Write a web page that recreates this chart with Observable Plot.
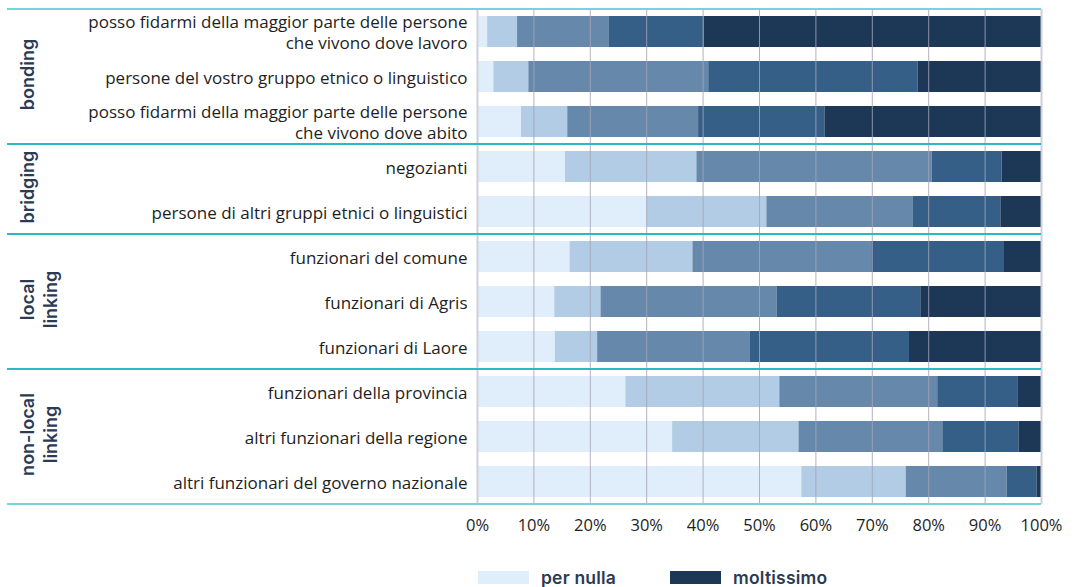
<!DOCTYPE html>
<html>
<head>
<meta charset="utf-8">
<script src="https://cdn.jsdelivr.net/npm/d3@7"></script>
<script src="https://cdn.jsdelivr.net/npm/@observablehq/plot@0.6"></script>
<style>
  body { margin: 0; background: #fff; }
  #chart svg { display: block; }
  #legend { display: flex; align-items: center; height: 20px; margin-top: 19px; padding-left: 478px;
            font-family: Inter, "DejaVu Sans", sans-serif; font-weight: 600; font-size: 17.5px; color: #2b3a55; letter-spacing: 0.2px; }
  .sw { display: inline-block; width: 51px; height: 13px; margin-right: 12px; }
  .item { display: flex; align-items: center; margin-right: 54px; }
</style>
</head>
<body>
<div id="chart"></div>
<div id="legend"></div>
<script>
const categories = [
  "posso fidarmi della maggior parte delle persone\nche vivono dove lavoro",
  "persone del vostro gruppo etnico o linguistico",
  "posso fidarmi della maggior parte delle persone\nche vivono dove abito",
  "negozianti",
  "persone di altri gruppi etnici o linguistici",
  "funzionari del comune",
  "funzionari di Agris",
  "funzionari di Laore",
  "funzionari della provincia",
  "altri funzionari della regione",
  "altri funzionari del governo nazionale"
];
const groupNames = ["bonding", "bridging", "local\nlinking", "non-local\nlinking"];
const groupOf = [0, 0, 0, 1, 1, 2, 2, 2, 3, 3, 3];

const levels = ["per nulla", "poco", "abbastanza", "molto", "moltissimo"];
const colors = ["#e0eefb", "#b1cce4", "#6689ab", "#355f86", "#1c3856"];
const legendLevels = ["per nulla", "moltissimo"];

const perNulla   = [1.8, 2.9, 7.8, 15.6, 30.1, 16.4, 13.7, 13.8, 26.3, 34.6, 57.5];
const poco       = [5.3, 6.2, 8.2, 23.3, 21.2, 21.8, 8.2, 7.5, 27.3, 22.4, 18.5];
const abbastanza = [16.2, 31.9, 23.2, 41.7, 25.9, 31.7, 31.2, 27.0, 28.0, 25.5, 17.9];
const molto      = [16.9, 37.1, 22.4, 12.4, 15.6, 23.4, 25.5, 28.3, 14.2, 13.5, 5.3];
const moltissimo = [59.8, 21.9, 38.4, 7.0, 7.2, 6.7, 21.4, 23.4, 4.2, 4.0, 0.8];

const xTicks = [0, 10, 20, 30, 40, 50, 60, 70, 80, 90, 100];
const innerTicks = [10, 20, 30, 40, 50, 60, 70, 80, 90];

const series = [perNulla, poco, abbastanza, molto, moltissimo];
const rows = [];
categories.forEach((c, i) => levels.forEach((l, j) => rows.push({cat: c, level: l, value: series[j][i]})));

const labelFont = '"Open Sans", "Noto Sans", sans-serif';

const chart = Plot.plot({
  width: 1075,
  height: 548,
  marginLeft: 477,
  marginRight: 34,
  marginTop: 9,
  marginBottom: 44,
  style: {fontFamily: labelFont, fontSize: "16px", color: "#1e1e1e", background: "#fff"},
  x: {domain: [0, 100], label: null},
  y: {domain: categories, paddingInner: 0.31, paddingOuter: 0.155, label: null},
  color: {domain: levels, range: colors},
  marks: [
    Plot.barX(rows, Plot.stackX({x: "value", y: "cat", fill: "level"})),
    Plot.gridX(innerTicks, {stroke: "#a5a3b8", strokeOpacity: 0.85, strokeWidth: 1}),
    Plot.gridX([0, 100], {stroke: "#cfcfda", strokeOpacity: 1, strokeWidth: 2}),
    Plot.axisX(xTicks, {tickSize: 0, tickPadding: 15, tickFormat: d => d + "%", fontSize: 16.5, label: null}),
    Plot.axisY({tickSize: 0, tickPadding: 10, fontSize: 17, lineHeight: 1.24, label: null})
  ]
});
document.getElementById("chart").appendChild(chart);

// group separators and group labels, positioned from the y scale
const ys = chart.scale("y");
const xs = chart.scale("x");
const gap = ys.step - ys.bandwidth;
const topOf = c => ys.apply(c) - gap / 2;
const botOf = c => ys.apply(c) + ys.bandwidth + gap / 2;
const svg = d3.select(chart);
const xEnd = xs.apply(100);

const bounds = [];
groupNames.forEach((g, gi) => {
  const cats = categories.filter((c, i) => groupOf[i] === gi);
  bounds.push({g, y0: topOf(cats[0]), y1: botOf(cats[cats.length - 1])});
});
const lineYs = [bounds[0].y0, ...bounds.map(b => b.y1)];
lineYs.forEach((y, i) => {
  const outer = i === 0 || i === lineYs.length - 1;
  svg.append("line")
    .attr("x1", 7).attr("x2", xEnd)
    .attr("y1", y).attr("y2", y)
    .attr("stroke", outer ? "#76d3da" : "#2db8c3")
    .attr("stroke-width", 2);
});

bounds.forEach(b => {
  const cy = (b.y0 + b.y1) / 2;
  const lines = b.g.split("\n");
  const t = svg.append("text")
    .attr("transform", `translate(28,${cy - 2}) rotate(-90)`)
    .attr("text-anchor", "middle")
    .attr("font-family", "Inter, 'DejaVu Sans', sans-serif")
    .attr("font-weight", 600)
    .attr("font-size", 18)
    .attr("fill", "#2b3a55");
  lines.forEach((l, k) => {
    t.append("tspan").attr("x", 0).attr("dy", k === 0 ? "0.35em" : "1.25em").text(l);
  });
});

// legend
const legend = d3.select("#legend");
legendLevels.forEach(l => {
  const it = legend.append("div").attr("class", "item");
  it.append("span").attr("class", "sw").style("background", colors[levels.indexOf(l)]);
  it.append("span").text(l);
});
</script>
</body>
</html>
